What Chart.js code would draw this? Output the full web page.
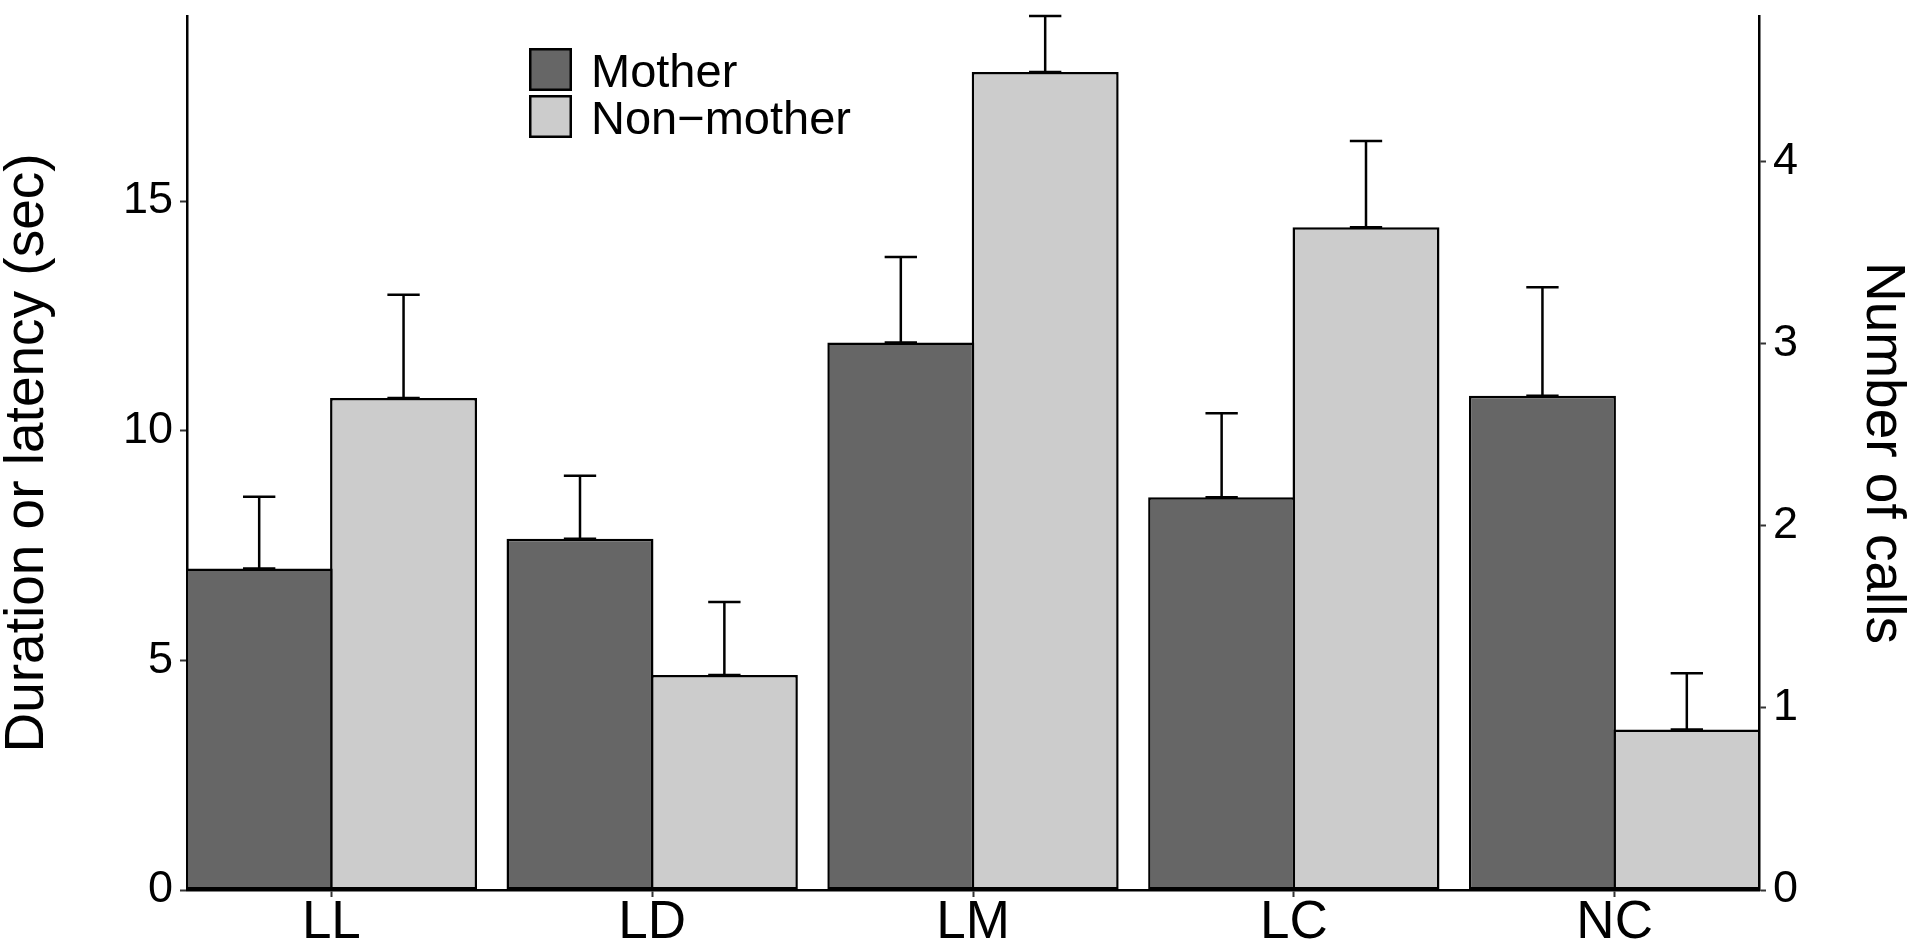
<!DOCTYPE html>
<html>
<head>
<meta charset="utf-8">
<title>Mother vs non-mother</title>
<script src="https://cdn.jsdelivr.net/npm/chart.js@4.4.1/dist/chart.umd.min.js"></script>
<style>
  html, body { margin: 0; padding: 0; background: #fff; }
  #wrap { width: 1915px; height: 950px; position: relative; }
</style>
</head>
<body>
<div id="wrap"><canvas id="callChart"></canvas></div>
<script>
const FONT = "'Liberation Sans', Arial, Helvetica, sans-serif";

const categories = ['LL', 'LD', 'LM', 'LC', 'NC'];

// duration or latency (sec) - left axis; NC is plotted on the calls axis
const motherSec = [7.00, 7.65, 11.92, 8.55, null];
const motherSecSE = [1.56, 1.37, 1.86, 1.83, null];
const nonMotherSec = [10.71, 4.68, 17.81, 14.43, null];
const nonMotherSecSE = [2.25, 1.59, 1.22, 1.88, null];

// number of calls - right axis
const motherCalls = [null, null, null, null, 2.715];
const motherCallsSE = [null, null, null, null, 0.595];
const nonMotherCalls = [null, null, null, null, 0.882];
const nonMotherCallsSE = [null, null, null, null, 0.308];

const secTicks = [0, 5, 10, 15];
const callTicks = [0, 1, 2, 3, 4];
const secMax = 19.03;
const callMax = 4.80;

const MOTHER = '#666666';
const NONMOTHER = '#cccccc';

const toPoints = (vals) => vals.map((v, i) => ({ x: i, y: v }));

// upper whisker only, like the original
const errorBars = {
  id: 'errorBars',
  afterDatasetsDraw(chart) {
    const ctx = chart.ctx;
    chart.data.datasets.forEach((ds, di) => {
      const meta = chart.getDatasetMeta(di);
      const yScale = chart.scales[ds.yAxisID];
      meta.data.forEach((bar, i) => {
        const v = ds.data[i].y;
        const e = ds.se[i];
        if (v == null || e == null) return;
        const yTop = yScale.getPixelForValue(v + e);
        const yBase = yScale.getPixelForValue(v);
        const half = bar.width * 0.11;
        ctx.save();
        ctx.strokeStyle = '#000';
        ctx.lineWidth = 2.5;
        ctx.beginPath();
        ctx.moveTo(bar.x, yBase);
        ctx.lineTo(bar.x, yTop);
        ctx.moveTo(bar.x - half, yTop);
        ctx.lineTo(bar.x + half, yTop);
        ctx.moveTo(bar.x - half, yBase);
        ctx.lineTo(bar.x + half, yBase);
        ctx.stroke();
        ctx.restore();
      });
    });
  }
};

// legend sits inside the panel
const boxLegend = {
  id: 'boxLegend',
  afterDraw(chart) {
    const ctx = chart.ctx;
    const x = 529, y0 = 48, size = 43, step = 47;
    [0, 1].forEach((di, row) => {
      const ds = chart.data.datasets[di];
      const y = y0 + row * step;
      ctx.save();
      ctx.fillStyle = ds.backgroundColor;
      ctx.fillRect(x, y, size, size);
      ctx.lineWidth = 2.5;
      ctx.strokeStyle = '#000';
      ctx.strokeRect(x + 1.25, y + 1.25, size - 2.5, size - 2.5);
      ctx.fillStyle = '#000';
      ctx.font = '47px ' + FONT;
      ctx.textBaseline = 'alphabetic';
      ctx.fillText(ds.label, x + 62, y + 39);
      ctx.restore();
    });
  }
};

function noPad(scale) {
  scale.paddingTop = 0;
  scale.paddingBottom = 0;
  scale.paddingLeft = 0;
  scale.paddingRight = 0;
}

// bars overlap by one border width so neighbours share a single outline
const barStyle = {
  borderColor: '#000',
  borderWidth: 2.5,
  borderSkipped: false,
  categoryPercentage: 0.9,
  barPercentage: 1.018,
  skipNull: true
};

Chart.defaults.font.family = FONT;
Chart.defaults.color = '#000';

const ctx = document.getElementById('callChart').getContext('2d');
const callChart = new Chart(ctx, {
  type: 'bar',
  data: {
    datasets: [
      Object.assign({ label: 'Mother', data: toPoints(motherSec), se: motherSecSE, yAxisID: 'y', backgroundColor: MOTHER }, barStyle),
      Object.assign({ label: 'Non\u2212mother', data: toPoints(nonMotherSec), se: nonMotherSecSE, yAxisID: 'y', backgroundColor: NONMOTHER }, barStyle),
      Object.assign({ label: 'Mother', data: toPoints(motherCalls), se: motherCallsSE, yAxisID: 'y2', backgroundColor: MOTHER }, barStyle),
      Object.assign({ label: 'Non\u2212mother', data: toPoints(nonMotherCalls), se: nonMotherCallsSE, yAxisID: 'y2', backgroundColor: NONMOTHER }, barStyle)
    ]
  },
  options: {
    responsive: true,
    maintainAspectRatio: false,
    devicePixelRatio: 1,
    animation: false,
    layout: { padding: { top: 16, left: 0, right: 0, bottom: 0 }, autoPadding: false },
    plugins: {
      legend: { display: false },
      tooltip: { enabled: false }
    },
    scales: {
      x: {
        type: 'linear',
        min: -0.45,
        max: 4.45,
        offset: false,
        stacked: false,
        afterBuildTicks: (s) => { s.ticks = categories.map((c, i) => ({ value: i })); },
        afterFit: (s) => { s.height = 60; noPad(s); },
        ticks: {
          callback: (v) => categories[v],
          autoSkip: false,
          maxRotation: 0,
          padding: 0,
          color: '#000',
          font: { size: 53, lineHeight: 1 }
        },
        grid: { offset: false, drawOnChartArea: false, drawTicks: true, tickLength: 7, tickColor: '#333', tickWidth: 2 },
        border: { display: true, color: '#000', width: 2.5 }
      },
      y: {
        position: 'left',
        min: 0,
        max: secMax,
        afterBuildTicks: (s) => { s.ticks = secTicks.map((v) => ({ value: v })); },
        afterFit: (s) => { s.width = 187; noPad(s); },
        ticks: { padding: 7, color: '#000', font: { size: 45, lineHeight: 1 } },
        grid: { drawOnChartArea: false, drawTicks: true, tickLength: 7, tickColor: '#333', tickWidth: 2 },
        border: { display: true, color: '#000', width: 2.5 },
        title: {
          display: true,
          text: 'Duration or latency (sec)',
          color: '#000',
          font: { size: 55, lineHeight: 1 },
          padding: { top: 0, bottom: 0 }
        }
      },
      y2: {
        position: 'right',
        min: 0,
        max: callMax,
        afterBuildTicks: (s) => { s.ticks = callTicks.map((v) => ({ value: v })); },
        afterFit: (s) => { s.width = 156; noPad(s); },
        ticks: { padding: 7, color: '#000', font: { size: 45, lineHeight: 1 } },
        grid: { drawOnChartArea: false, drawTicks: true, tickLength: 7, tickColor: '#333', tickWidth: 2 },
        border: { display: true, color: '#000', width: 2.5 },
        title: {
          display: true,
          text: 'Number of calls',
          color: '#000',
          font: { size: 55, lineHeight: 1 },
          padding: { top: 5, bottom: 0 }
        }
      }
    }
  },
  plugins: [errorBars, boxLegend]
});
</script>
</body>
</html>
